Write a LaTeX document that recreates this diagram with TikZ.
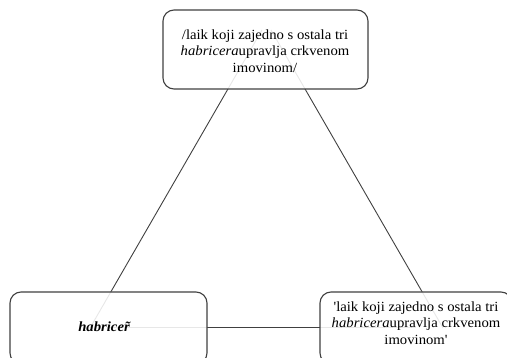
\documentclass[tikz,border=0pt]{standalone}
\usepackage{fontspec}
\setmainfont[FakeStretch=1.05,Ligatures=TeXOff]{Liberation Serif}
\begin{document}
\begin{tikzpicture}[x=1pt,y=-1pt,
  conn/.style={draw=black!75,line width=0.9pt},
  box/.style={draw=black!75,line width=1.1pt,rounded corners=11pt,fill=white,fill opacity=0.88,text opacity=1,align=center,inner sep=0pt},
  lbl/.style={font=\fontsize{14}{16.6}\selectfont,align=center,inner sep=0pt}]
\useasboundingbox (0,0) rectangle (507,358);
\begin{scope}
\clip (0,0) rectangle (507,358);
% connector ends
\coordinate (tl) at (262,30);
\coordinate (tr) at (271,30);
\coordinate (lc) at (90,328);
\coordinate (rc) at (443,328);
\coordinate (lh) at (107,327);
\coordinate (rh) at (416,327);
\draw[conn] (tl) -- (lc);
\draw[conn] (tr) -- (rc);
\draw[conn] (lh) -- (rh);
% boxes
\path[box] (163,10) rectangle (368,89);
\path[box] (10,292) rectangle (207,364);
\path[box] (320,292) rectangle (512,364);
% texts
\node[lbl] (top) at (265,51) {/laik koji zajedno s ostala tri\\\textit{habricera}upravlja crkvenom\\imovinom/};
\node[lbl] (left) at (107,327) {\textbf{\textit{habrice\~r}}};
\node[lbl] (right) at (416,323) {'laik koji zajedno s ostala tri\\\textit{habricera}upravlja crkvenom\\imovinom'};
\end{scope}
\end{tikzpicture}
\end{document}
